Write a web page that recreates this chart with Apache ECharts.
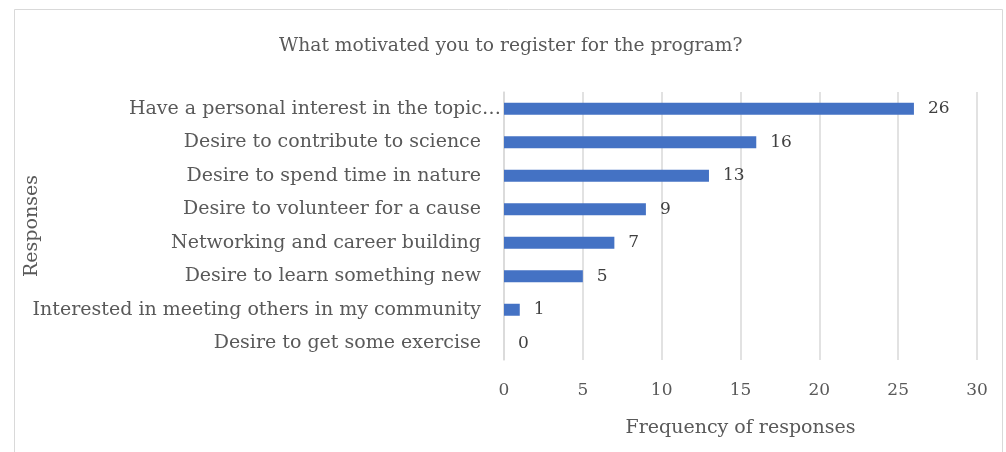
<!DOCTYPE html>
<html>
<head>
<meta charset="utf-8">
<script src="https://cdn.jsdelivr.net/npm/echarts@6/dist/echarts.min.js"></script>
<style>
  html, body { margin: 0; padding: 0; background: #fff; }
  #chart { width: 1006px; height: 452px; }
</style>
</head>
<body>
<div id="chart"></div>
<script>
// categories top -> bottom
const categories = [
  "Have a personal interest in the topic…",
  "Desire to contribute to science",
  "Desire to spend time in nature",
  "Desire to volunteer for a cause",
  "Networking and career building",
  "Desire to learn something new",
  "Interested in meeting others in my community",
  "Desire to get some exercise"
];
const counts = [26, 16, 13, 9, 7, 5, 1, 0];
const xTicks = [0, 5, 10, 15, 20, 25, 30];

const FONT = "DejaVu Serif";
const chart = echarts.init(document.getElementById("chart"));

const option = {
  backgroundColor: "#fff",
  textStyle: { fontFamily: FONT },
  title: {
    text: "What motivated you to register for the program?",
    left: 274,
    top: 32,
    textStyle: { fontFamily: FONT, fontSize: 18.7, fontWeight: "normal", color: "#595959" }
  },
  graphic: [{
    type: "rect",
    shape: { x: 14.5, y: 9.5, width: 988, height: 450 },
    style: { fill: "none", stroke: "#d9d9d9", lineWidth: 1 },
    silent: true
  }],
  grid: { left: 504, right: 29, top: 92, bottom: 92 },
  xAxis: {
    type: "value",
    min: xTicks[0],
    max: xTicks[xTicks.length - 1],
    interval: 5,
    name: "Frequency of responses",
    nameLocation: "middle",
    nameGap: 59,
    nameMoveOverlap: false,
    nameTextStyle: { fontFamily: FONT, fontSize: 19, color: "#595959" },
    axisLine: { show: false },
    axisTick: { show: false },
    axisLabel: { margin: 22, fontFamily: FONT, fontSize: 17, color: "#595959" },
    splitLine: { lineStyle: { color: "#d9d9d9", width: 1.5 } }
  },
  yAxis: {
    type: "category",
    inverse: true,
    data: categories,
    name: "Responses",
    nameLocation: "middle",
    nameGap: 462,
    nameRotate: 90,
    nameMoveOverlap: false,
    nameTextStyle: { fontFamily: FONT, fontSize: 19, color: "#595959" },
    axisLine: { show: true, lineStyle: { color: "#d9d9d9", width: 1.5 } },
    axisTick: { show: false },
    axisLabel: {
      margin: 3,
      fontFamily: FONT,
      fontSize: 19,
      color: "#595959",
      formatter: (v, i) => (i === 0 ? "{a|" + v + "}" : "{b|" + v + "}"),
      rich: {
        a: { fontFamily: FONT, fontSize: 19, color: "#595959" },
        b: { fontFamily: FONT, fontSize: 19, color: "#595959", padding: [0, 20, 0, 0] }
      }
    }
  },
  series: [{
    type: "bar",
    data: counts,
    barWidth: 12,
    itemStyle: { color: "#4472c4" },
    label: {
      show: true,
      position: "right",
      distance: 14,
      fontFamily: FONT,
      fontSize: 17,
      color: "#404040"
    }
  }]
};

chart.setOption(option);
</script>
</body>
</html>
